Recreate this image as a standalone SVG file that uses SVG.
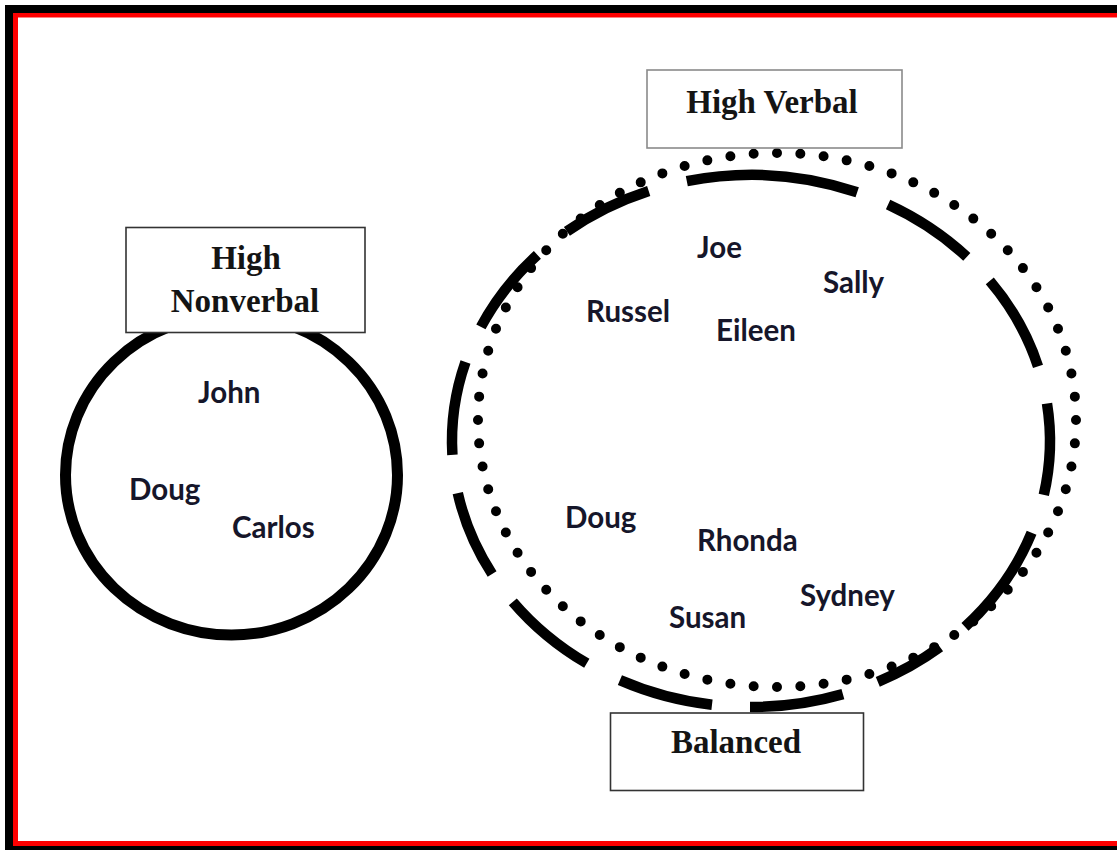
<svg xmlns="http://www.w3.org/2000/svg" width="1117" height="850" viewBox="0 0 1117 850">
  <style>
    .label { font-family: "Liberation Serif", "Times New Roman", serif; font-weight: bold; font-size: 33px; fill: #141414; text-anchor: middle; }
    .name { font-family: Lato, "Open Sans", sans-serif; font-weight: bold; font-size: 29.5px; fill: #16162a; }
    .box { fill: #ffffff; stroke-width: 1.6; }
    .ring { fill: none; stroke: #000; }
    .dash { fill: none; stroke: #000; stroke-width: 10.5; stroke-linecap: butt; }
  </style>

  <rect width="1117" height="850" fill="#ffffff"/>

  <!-- page frame: black outer band, red inner band -->
  <g id="frame">
    <rect x="5" y="5" width="1140" height="860" fill="#000"/>
    <rect x="13" y="13" width="1130" height="833" fill="#ff0000"/>
    <rect x="18" y="17.5" width="1120" height="823.5" fill="#ffffff"/>
  </g>

  <!-- High Nonverbal group: solid ring -->
  <g id="ring-nonverbal">
    <ellipse class="ring" cx="231.5" cy="475" rx="166" ry="160" stroke-width="11"/>
  </g>

  <!-- High Verbal group: dotted ring -->
  <g id="ring-verbal">
    <ellipse class="ring" cx="777" cy="420" rx="299" ry="267" stroke-width="10" stroke-linecap="round" pathLength="76" stroke-dasharray="0 1"/>
  </g>

  <!-- Balanced group: long-dash ring -->
  <g id="ring-balanced">
    <path class="dash" d="M1031.6,532.8 A299,266 0 0 1 965.0,626.8"/>
    <path class="dash" d="M940.0,647.1 A299,266 0 0 1 877.8,681.9"/>
    <path class="dash" d="M842.9,694.1 A299,266 0 0 1 750.0,707.0"/>
    <path class="dash" d="M712.0,704.7 A299,266 0 0 1 619.9,680.1"/>
    <path class="dash" d="M586.8,663.3 A299,266 0 0 1 512.8,601.8"/>
    <path class="dash" d="M492.1,574.0 A299,266 0 0 1 457.8,493.1"/>
    <path class="dash" d="M452.4,454.9 A299,266 0 0 1 465.5,361.9"/>
    <path class="dash" d="M480.9,326.9 A299,266 0 0 1 537.4,254.9"/>
    <path class="dash" d="M566.9,231.4 A299,266 0 0 1 648.7,191.0"/>
    <path class="dash" d="M686.8,181.2 A299,266 0 0 1 857.2,192.3"/>
    <path class="dash" d="M888.1,204.6 A299,266 0 0 1 966.8,256.9"/>
    <path class="dash" d="M989.8,280.9 A299,266 0 0 1 1038.0,366.3"/>
    <path class="dash" d="M1047.0,403.5 A299,266 0 0 1 1043.8,494.9"/>
  </g>

  <!-- category labels -->
  <g id="node-high-nonverbal">
    <rect class="box" x="126" y="227.5" width="239" height="105" stroke="#333"/>
    <text class="label" x="246" y="269">High</text>
    <text class="label" x="245" y="312">Nonverbal</text>
  </g>

  <g id="node-high-verbal">
    <rect class="box" x="647" y="70" width="255" height="78" stroke="#8a8a8a"/>
    <text class="label" x="772" y="113">High Verbal</text>
  </g>

  <g id="node-balanced">
    <rect class="box" x="610.5" y="713" width="253" height="77.5" stroke="#333"/>
    <text class="label" x="736" y="753">Balanced</text>
  </g>

  <!-- member names -->
  <g id="names-nonverbal">
    <text class="name" x="198" y="403">John</text>
    <text class="name" x="129" y="500">Doug</text>
    <text class="name" x="232" y="538">Carlos</text>
  </g>

  <g id="names-verbal-balanced">
    <text class="name" x="697" y="258">Joe</text>
    <text class="name" x="823" y="293">Sally</text>
    <text class="name" x="586" y="322">Russel</text>
    <text class="name" x="716" y="341">Eileen</text>
    <text class="name" x="565" y="528">Doug</text>
    <text class="name" x="697" y="551">Rhonda</text>
    <text class="name" x="800" y="606">Sydney</text>
    <text class="name" x="669" y="628">Susan</text>
  </g>
</svg>
